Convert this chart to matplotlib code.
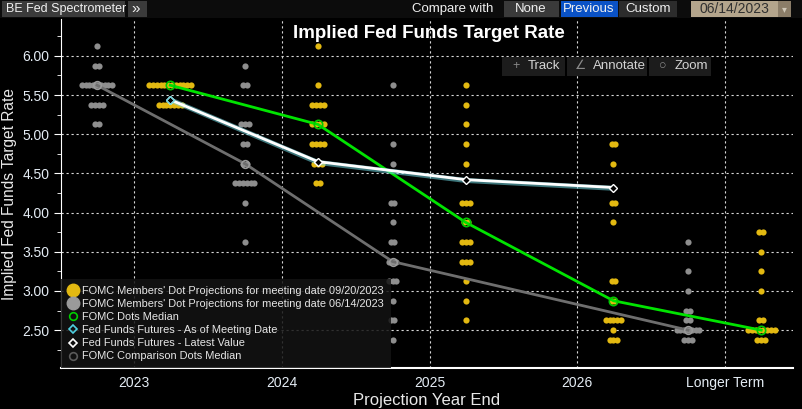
import matplotlib
matplotlib.use("Agg")
import matplotlib.pyplot as plt
import numpy as np
from matplotlib.lines import Line2D
from matplotlib.patches import Rectangle

W, H = 803, 409
FONT = ["Liberation Sans", "DejaVu Sans"]

categories = ["2023", "2024", "2025", "2026", "Longer Term"]

# September 2023 dot plot (rate, number of participants)
sep_2023_rates = [5.625, 5.375]
sep_2023_counts = [12, 7]
sep_2024_rates = [6.125, 5.625, 5.375, 5.125, 4.875, 4.625, 4.375]
sep_2024_counts = [1, 1, 4, 4, 4, 3, 2]
sep_2025_rates = [5.625, 5.375, 5.125, 4.875, 4.625, 4.125, 3.875, 3.625, 3.375, 3.125, 2.875, 2.625]
sep_2025_counts = [1, 1, 1, 1, 1, 3, 2, 3, 3, 1, 1, 1]
sep_2026_rates = [4.875, 4.625, 4.125, 3.875, 3.125, 2.875, 2.625, 2.5, 2.375]
sep_2026_counts = [2, 1, 2, 1, 2, 2, 5, 1, 3]
sep_lr_rates = [3.75, 3.5, 3.25, 3.0, 2.625, 2.5, 2.375]
sep_lr_counts = [2, 1, 1, 1, 2, 8, 3]

# June 2023 dot plot
jun_2023_rates = [6.125, 5.875, 5.625, 5.375, 5.125]
jun_2023_counts = [1, 2, 9, 4, 2]
jun_2024_rates = [5.875, 5.625, 5.125, 4.875, 4.625, 4.375, 4.125, 3.625]
jun_2024_counts = [1, 2, 3, 2, 2, 6, 1, 1]
jun_2025_rates = [5.625, 4.875, 4.625, 4.125, 3.875, 3.625, 3.375, 3.125, 2.875, 2.625, 2.375]
jun_2025_counts = [1, 1, 1, 2, 1, 2, 3, 3, 1, 2, 1]
jun_lr_rates = [3.625, 3.25, 3.0, 2.75, 2.625, 2.5, 2.375]
jun_lr_counts = [1, 1, 1, 2, 2, 7, 3]

sep_median = [5.625, 5.125, 3.875, 2.875, 2.5]
jun_median_cats = [0, 1, 2, 4]
jun_median = [5.625, 4.625, 3.375, 2.5]
futures_latest = [5.44, 4.65, 4.42, 4.32]
futures_meeting = [5.44, 4.64, 4.41, 4.31]

SEP_SHIFT = 0.245
JUN_SHIFT = -0.25
DOT_STEP = 0.0257
YELLOW = "#e3b911"
GRAY = "#8e8e8e"


def dot_positions(cat, shift, rates, counts):
    xs, ys = [], []
    for r, n in zip(rates, counts):
        for i in range(n):
            xs.append(cat + shift + (i - (n - 1) / 2) * DOT_STEP)
            ys.append(r)
    return xs, ys


def px_rect(fig, x0, y0, x1, y1, color):
    fig.add_artist(Rectangle((x0 / W, 1 - y1 / H), (x1 - x0) / W, (y1 - y0) / H,
                             transform=fig.transFigure, facecolor=color, edgecolor="none"))


def px_text(fig, x, y, s, **kw):
    fig.text(x / W, 1 - y / H, s, family=FONT, va="center", **kw)


fig = plt.figure(figsize=(W / 100, H / 100), dpi=100, facecolor="black")
ax = fig.add_axes([61 / W, 41 / H, 732 / W, 349 / H], facecolor="black")

for cat, rates, counts in [(0, sep_2023_rates, sep_2023_counts), (1, sep_2024_rates, sep_2024_counts),
                           (2, sep_2025_rates, sep_2025_counts), (3, sep_2026_rates, sep_2026_counts),
                           (4, sep_lr_rates, sep_lr_counts)]:
    xs, ys = dot_positions(cat, SEP_SHIFT, rates, counts)
    ax.scatter(xs, ys, s=20, color=YELLOW, linewidths=0, zorder=3)

for cat, rates, counts in [(0, jun_2023_rates, jun_2023_counts), (1, jun_2024_rates, jun_2024_counts),
                           (2, jun_2025_rates, jun_2025_counts), (4, jun_lr_rates, jun_lr_counts)]:
    xs, ys = dot_positions(cat, JUN_SHIFT, rates, counts)
    ax.scatter(xs, ys, s=20, color=GRAY, linewidths=0, zorder=3)

sep_x = np.arange(len(categories)) + SEP_SHIFT
ax.plot(sep_x, sep_median, color="#00e400", lw=2, marker="o", ms=6, mfc="none",
        mec="#00c800", mew=1.2, zorder=5)
ax.plot(np.array(jun_median_cats) + JUN_SHIFT, jun_median, color="#6e6e6e", lw=2,
        marker="o", ms=5.5, mfc="none", mec="#9a9a9a", mew=1.2, zorder=4)
fut_x = np.arange(len(futures_latest)) + SEP_SHIFT
ax.plot(fut_x, futures_meeting, color="#6fd6e0", lw=3.6, alpha=0.55, zorder=5)
ax.plot(fut_x, futures_latest, color="white", lw=2, marker="D", ms=4.5, mfc="black",
        mec="white", mew=1, zorder=6)
ax.plot(fut_x[:1], futures_meeting[:1], ls="none", marker="D", ms=4.5, mfc="none",
        mec="#6fd6e0", mew=1, zorder=7)

ax.set_xlim(-0.494, 4.46)
ax.set_ylim(2.017, 6.47)
ax.set_xticks(range(len(categories)))
ax.set_xticklabels(categories)
ax.set_yticks(np.arange(2.5, 6.01, 0.5))
ax.set_yticklabels([f"{v:.2f}" for v in np.arange(2.5, 6.01, 0.5)])
ax.set_yticks(np.arange(2.25, 6.5, 0.25), minor=True)
ax.tick_params(axis="both", colors="white", labelcolor="#e4ecf4", labelsize=10, length=5)
ax.tick_params(axis="y", which="minor", colors="white", length=3)
ax.tick_params(axis="x", length=0, pad=6)
for lab in ax.get_xticklabels() + ax.get_yticklabels():
    lab.set_family(FONT)
ax.grid(True, color="#d8d8d8", lw=0.8, ls=(0, (2, 2.5)))
ax.set_axisbelow(True)
for side in ["top", "right"]:
    ax.spines[side].set_visible(False)
ax.spines["left"].set_color("white")
ax.spines["bottom"].set_color("white")
ax.spines["bottom"].set_linewidth(1.5)

ax.set_ylabel("Implied Fed Funds Target Rate", color="#e8e8e8", fontsize=11.2, family=FONT, labelpad=4)
ax.set_xlabel("Projection Year End", color="#e8e8e8", fontsize=12, family=FONT, labelpad=2)

handles = [
    Line2D([], [], ls="none", marker="o", ms=9, color=YELLOW),
    Line2D([], [], ls="none", marker="o", ms=9, color="#9a9a9a"),
    Line2D([], [], ls="none", marker="o", ms=5.5, mfc="none", mec="#00d000", mew=1.2),
    Line2D([], [], ls="none", marker="D", ms=4, mfc="none", mec="#4fd0e0", mew=1.2),
    Line2D([], [], ls="none", marker="D", ms=4, mfc="none", mec="white", mew=1.2),
    Line2D([], [], ls="none", marker="o", ms=5.5, mfc="none", mec="#5a5a5a", mew=1.2),
]
labels = [
    "FOMC Members' Dot Projections for meeting date 09/20/2023",
    "FOMC Members' Dot Projections for meeting date 06/14/2023",
    "FOMC Dots Median",
    "Fed Funds Futures - As of Meeting Date",
    "Fed Funds Futures - Latest Value",
    "FOMC Comparison Dots Median",
]
leg = ax.legend(handles, labels, loc="lower left", borderaxespad=0, frameon=True, fancybox=False,
                facecolor="#141414", edgecolor="none", framealpha=0.85, labelcolor="#e6e6e6",
                prop={"family": FONT, "size": 7.9}, handlelength=1.0, handletextpad=0.35,
                labelspacing=0.28, borderpad=0.6)
leg.set_zorder(8)

# title
px_text(fig, 429, 33, "Implied Fed Funds Target Rate", color="white", fontsize=13.5,
        fontweight="bold", ha="center")

# top bar
px_rect(fig, 0, 0, W, 18, "#0c0c0c")
px_rect(fig, 2, 1, 125, 17, "#3b3b3b")
px_text(fig, 6, 9, "BE Fed Spectrometer", color="#f0f0f0", fontsize=9)
px_rect(fig, 128, 1, 147, 17, "#3b3b3b")
px_text(fig, 131, 9, "\u00bb", color="#f0f0f0", fontsize=11)
px_text(fig, 412, 9, "Compare with", color="#f0f0f0", fontsize=9.5)
px_rect(fig, 504, 1, 559, 17, "#3a3a3a")
px_text(fig, 531, 9, "None", color="#f0f0f0", fontsize=9.5, ha="center")
px_rect(fig, 561, 1, 618, 17, "#0a52c6")
px_text(fig, 589, 9, "Previous", color="#f0f0f0", fontsize=9.5, ha="center")
px_rect(fig, 619, 1, 677, 17, "#2c2c2c")
px_text(fig, 648, 9, "Custom", color="#f0f0f0", fontsize=9.5, ha="center")
px_rect(fig, 691, 1, 778, 17, "#b4a58c")
px_text(fig, 734, 9, "06/14/2023", color="#303030", fontsize=10, ha="center")
px_rect(fig, 778, 1, 791, 17, "#8b7d68")
px_text(fig, 784, 9, "\u25be", color="#d0c8b8", fontsize=7, ha="center")

# chart toolbar
for x0, x1, icon, name in [(502, 565, "+", "Track"), (567, 647, "\u2220", "Annotate"),
                           (649, 711, "\u25cb", "Zoom")]:
    px_rect(fig, x0, 57, x1, 76, "#1c1c1c")
    px_text(fig, x0 + 14, 66, icon, color="#8a8a8a", fontsize=9, ha="center")
    px_text(fig, x0 + 26, 66, name, color="#d4d4d4", fontsize=9.5)

fig.savefig("out.png", dpi=100, facecolor="black")
